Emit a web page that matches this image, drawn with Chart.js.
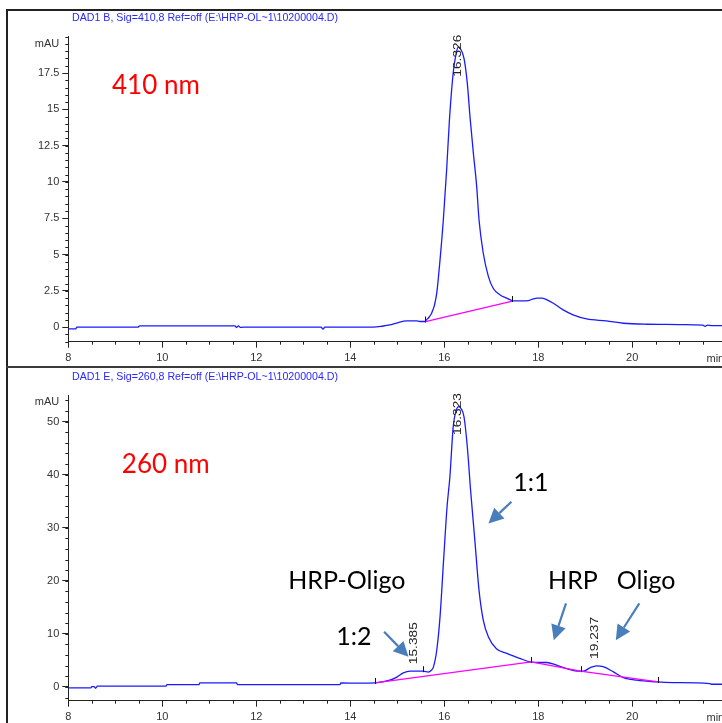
<!DOCTYPE html>
<html>
<head>
<meta charset="utf-8">
<script src="https://cdn.jsdelivr.net/npm/chart.js@4.4.1/dist/chart.umd.min.js"></script>
<style>
  html, body { margin: 0; padding: 0; background: #fff; }
  #wrap { position: relative; width: 722px; height: 723px; overflow: hidden; }
  canvas { position: absolute; left: 0; }
  #c410 { top: 0; }
  #c260 { top: 368px; }
  .frame { position: absolute; background: #222; }
</style>
</head>
<body>
<div id="wrap">
  <canvas id="c410" width="722" height="367"></canvas>
  <canvas id="c260" width="722" height="355"></canvas>
  <div class="frame" style="left:6px;top:9px;width:2px;height:714px"></div>
  <div class="frame" style="left:6px;top:9px;width:716px;height:2px"></div>
  <div class="frame" style="left:6px;top:366px;width:716px;height:2px;background:#3a3a3a"></div>
</div>
<script>
/* HPLC chromatograms, DAD1 410 nm and 260 nm */
(function () {
  "use strict";

  /* time axis (min) */
  const xTicks = [8, 10, 12, 14, 16, 18, 20];

  /* 410 nm trace */
  const yTicks410 = [0, 2.5, 5, 7.5, 10, 12.5, 15, 17.5];
  const time410 = [8.0, 8.16, 8.18, 9.48, 9.52, 11.55, 11.58, 11.62, 11.66, 11.72, 13.38, 13.42, 13.46, 14.49, 14.7, 14.84, 15.0, 15.2, 15.41, 15.48, 15.59, 15.62, 15.68, 15.73, 15.79, 15.84, 15.91, 15.98, 16.05, 16.11, 16.19, 16.25, 16.3, 16.34, 16.42, 16.49, 16.55, 16.62, 16.69, 16.74, 16.83, 16.94, 17.04, 17.19, 17.33, 17.47, 17.75, 17.9, 17.97, 18.08, 18.14, 18.32, 18.53, 18.74, 19.03, 19.45, 19.81, 20.31, 21.0, 21.3, 21.5, 21.55, 21.6, 21.7, 21.95];
  const abs410 = [-0.12, -0.12, 0, 0, 0.09, 0.09, -0.03, 0.09, -0.02, 0, 0, -0.14, 0, 0, 0.08, 0.16, 0.3, 0.43, 0.43, 0.39, 0.39, 0.5, 0.7, 0.96, 1.5, 2.34, 4.63, 7.38, 10.8, 14.27, 17.5, 18.8, 19.3, 19.2, 18.5, 16.8, 14.4, 11.97, 9.68, 7.38, 5.09, 3.48, 2.68, 2.22, 2.0, 1.81, 1.81, 1.95, 2.0, 2.0, 1.95, 1.65, 1.19, 0.85, 0.57, 0.43, 0.27, 0.2, 0.18, 0.16, 0.14, 0.06, 0.14, 0.1, 0.11];
  const baseTime410 = [15.6, 17.45];
  const baseAbs410 = [0.39, 1.8];
  const markTime410 = [15.6, 17.45];
  const markAbs410 = [0.39, 1.8];
  const peakTime410 = [16.326];
  const peakAbs410 = [19.3];

  /* 260 nm trace */
  const yTicks260 = [0, 10, 20, 30, 40, 50];
  const time260 = [8.0, 8.48, 8.5, 8.55, 8.58, 8.62, 10.08, 10.1, 10.78, 10.8, 11.58, 11.6, 13.78, 13.8, 14.21, 14.53, 14.84, 15.0, 15.13, 15.27, 15.55, 15.66, 15.72, 15.77, 15.84, 15.91, 15.99, 16.06, 16.12, 16.19, 16.25, 16.31, 16.36, 16.42, 16.49, 16.56, 16.65, 16.74, 16.83, 16.94, 17.11, 17.33, 17.61, 17.82, 18.0, 18.18, 18.39, 18.6, 18.82, 18.96, 19.1, 19.24, 19.38, 19.6, 19.81, 20.09, 20.52, 20.87, 21.65, 21.68, 21.95];
  const abs260 = [-0.2, -0.2, 0.05, 0.05, -0.25, 0.13, 0.13, 0.44, 0.44, 0.75, 0.75, 0.44, 0.44, 0.75, 0.7, 0.75, 1.26, 1.9, 2.64, 2.96, 2.96, 2.8, 3.1, 3.77, 6.9, 13.2, 24.5, 34, 39.6, 49, 52, 52.8, 52.4, 50.9, 45.3, 37.1, 27.7, 18.2, 12.6, 9.4, 7.2, 6.3, 5.36, 4.72, 4.6, 4.6, 4.09, 3.46, 2.96, 2.96, 3.6, 3.96, 3.8, 2.83, 1.76, 1.26, 0.94, 0.82, 0.63, 0.5, 0.5];
  const baseTime260 = [14.53, 17.85, 18.9, 20.55];
  const baseAbs260 = [0.75, 4.7, 2.96, 0.94];
  const markTime260 = [14.53, 15.55, 17.85, 18.9, 20.55];
  const markAbs260 = [0.75, 2.96, 4.7, 2.96, 0.94];
  const peakTime260 = [15.385, 16.323, 19.237];
  const peakAbs260 = [2.96, 52.8, 3.96];

  const BLUE = "#1a1aff", PINK = "#ff00ff", AXIS = "#222", ARROW = "#4a7ebb";
  const TICKFONT = '"Liberation Sans", Arial, sans-serif';
  const NOTEFONT = 'Lato, "Open Sans", sans-serif';

  const pts = (xs, ys) => xs.map((x, i) => ({ x: x, y: ys[i] }));

  function arrow(ctx, x0, y0, x1, y1) {
    const a = Math.atan2(y1 - y0, x1 - x0), L = 15, W = 7.5;
    const bx = x1 - L * Math.cos(a), by = y1 - L * Math.sin(a);
    ctx.save();
    ctx.strokeStyle = ARROW; ctx.fillStyle = ARROW; ctx.lineWidth = 2.2;
    ctx.beginPath(); ctx.moveTo(x0, y0); ctx.lineTo(bx, by); ctx.stroke();
    ctx.beginPath(); ctx.moveTo(x1, y1);
    ctx.lineTo(bx + W * Math.sin(a), by - W * Math.cos(a));
    ctx.lineTo(bx - W * Math.sin(a), by + W * Math.cos(a));
    ctx.closePath(); ctx.fill();
    ctx.restore();
  }

  /* extras: title, minor ticks, units, integration marks, peak labels, notes */
  const extras = {
    id: "extras",
    afterDraw(chart) {
      const o = chart.options.plugins.extras, ctx = chart.ctx, a = chart.chartArea;
      const xs = chart.scales.x, ys = chart.scales.y;
      ctx.save();
      // title
      ctx.font = "11px " + TICKFONT; ctx.fillStyle = "#2828ff";
      ctx.textAlign = "center"; ctx.textBaseline = "middle";
      const tw = ctx.measureText(o.title).width;
      ctx.save(); ctx.translate(205, o.titleY); ctx.scale(266 / tw, 1); ctx.fillText(o.title, 0, 0); ctx.restore();
      // minor ticks
      ctx.strokeStyle = AXIS; ctx.lineWidth = 1; ctx.beginPath();
      for (let t = 8; t <= xs.max; t += 0.5) {
        const px = Math.round(xs.getPixelForValue(t)) + 0.5;
        ctx.moveTo(px, a.bottom); ctx.lineTo(px, a.bottom + 3);
      }
      for (let v = Math.ceil(ys.min / o.minor) * o.minor; v <= ys.max + 1e-6; v += o.minor) {
        const py = Math.round(ys.getPixelForValue(v)) + 0.5;
        ctx.moveTo(a.left - 3, py); ctx.lineTo(a.left, py);
      }
      ctx.stroke();
      // units
      ctx.fillStyle = "#333"; ctx.font = "11px " + TICKFONT;
      ctx.textAlign = "right"; ctx.fillText("mAU", a.left - 9, a.top + 7);
      ctx.textAlign = "left"; ctx.fillText("min", 706.5, a.bottom + 17);
      // integration marks
      ctx.strokeStyle = "#111"; ctx.beginPath();
      o.marks.forEach((m) => {
        const px = Math.round(xs.getPixelForValue(m[0])) + 0.5, py = ys.getPixelForValue(m[1]);
        ctx.moveTo(px, py - 5); ctx.lineTo(px, py + 1);
      });
      ctx.stroke();
      // peak labels (rotated, kept inside the plot top)
      ctx.font = "10px " + TICKFONT; ctx.fillStyle = "#222";
      ctx.textAlign = "left"; ctx.textBaseline = "middle";
      o.peaks.forEach((p) => {
        const txt = p[0].toFixed(3), px = xs.getPixelForValue(p[0]) - 1.5;
        const py = Math.max(ys.getPixelForValue(p[1]) - 7, a.top + 40);
        const w = ctx.measureText(txt).width;
        ctx.save(); ctx.translate(px, py); ctx.rotate(-Math.PI / 2); ctx.scale(42 / w, 1);
        ctx.fillText(txt, 0, 0); ctx.restore();
      });
      // notes
      ctx.textBaseline = "alphabetic";
      o.notes.forEach((n) => {
        ctx.font = n.size + "px " + NOTEFONT; ctx.fillStyle = n.color;
        ctx.fillText(n.text, xs.getPixelForValue(n.t), ys.getPixelForValue(n.v));
      });
      o.arrows.forEach((r) => arrow(ctx, xs.getPixelForValue(r[0]), ys.getPixelForValue(r[1]), xs.getPixelForValue(r[2]), ys.getPixelForValue(r[3])));
      ctx.restore();
    },
  };

  function makeChart(id, cfg) {
    return new Chart(document.getElementById(id), {
      type: "line",
      data: {
        datasets: [
          { data: pts(cfg.baseT, cfg.baseA), borderColor: PINK, borderWidth: 1.3, pointRadius: 0, tension: 0 },
          { data: pts(cfg.time, cfg.abs), borderColor: BLUE, borderWidth: 1.3, pointRadius: 0, cubicInterpolationMode: "monotone" },
        ],
      },
      options: {
        responsive: false, animation: false, events: [],
        layout: { padding: { top: cfg.top, left: 0, right: 0, bottom: 0 } },
        plugins: {
          legend: { display: false }, tooltip: { enabled: false },
          extras: { title: cfg.title, titleY: cfg.titleY, minor: cfg.minor, marks: cfg.markT.map((t, i) => [t, cfg.markA[i]]),
                    peaks: cfg.peakT.map((t, i) => [t, cfg.peakA[i]]), notes: cfg.notes, arrows: cfg.arrows },
        },
        scales: {
          x: {
            type: "linear", min: 8, max: 21.91,
            afterBuildTicks: (s) => { s.ticks = xTicks.map((v) => ({ value: v })); },
            afterFit: (s) => { s.height = cfg.axisH; },
            grid: { drawOnChartArea: false, drawTicks: true, tickLength: 6, color: AXIS },
            border: { display: true, color: AXIS, width: 1 },
            ticks: { font: { family: TICKFONT, size: 11 }, color: "#333", padding: 4, maxRotation: 0, autoSkip: false, callback: (v) => String(v) },
          },
          y: {
            type: "linear", min: cfg.yMin, max: cfg.yMax,
            afterBuildTicks: (s) => { s.ticks = cfg.yTicks.map((v) => ({ value: v })); },
            afterFit: (s) => { s.width = 68.3; },
            grid: { drawOnChartArea: false, drawTicks: true, tickLength: 6, color: AXIS },
            border: { display: true, color: AXIS, width: 1 },
            ticks: { font: { family: TICKFONT, size: 11 }, color: "#333", padding: 3, autoSkip: false, callback: (v) => String(v) },
          },
        },
      },
      plugins: [extras],
    });
  }

  makeChart("c410", {
    title: "DAD1 B, Sig=410,8 Ref=off (E:\\HRP-OL~1\\10200004.D)", titleY: 18,
    top: 36.7, axisH: 25.3, yMin: -1, yMax: 20, yTicks: yTicks410, minor: 0.5,
    time: time410, abs: abs410, baseT: baseTime410, baseA: baseAbs410, markT: markTime410, markA: markAbs410,
    peakT: peakTime410, peakA: peakAbs410,
    notes: [{ text: "410 nm", t: 8.93, v: 16.04, size: 26, color: "#ff0000" }],
    arrows: [],
  });

  makeChart("c260", {
    title: "DAD1 E, Sig=260,8 Ref=off (E:\\HRP-OL~1\\10200004.D)", titleY: 9,
    top: 27, axisH: 22.3, yMin: -2.6, yMax: 55, yTicks: yTicks260, minor: 2,
    time: time260, abs: abs260, baseT: baseTime260, baseA: baseAbs260, markT: markTime260, markA: markAbs260,
    peakT: peakTime260, peakA: peakAbs260,
    notes: [
      { text: "260 nm", t: 9.14, v: 40.26, size: 26, color: "#ff0000" },
      { text: "HRP-Oligo", t: 12.68, v: 18.38, size: 25, color: "#000" },
      { text: "1:2", t: 13.7, v: 7.87, size: 25, color: "#000" },
      { text: "1:1", t: 17.47, v: 36.98, size: 25, color: "#000" },
      { text: "HRP", t: 18.21, v: 18.38, size: 25, color: "#000" },
      { text: "Oligo", t: 19.67, v: 18.38, size: 25, color: "#000" },
    ],
    arrows: [
      [14.72, 10.38, 15.24, 5.66],
      [17.43, 34.9, 16.94, 30.8],
      [18.59, 15.74, 18.33, 8.81],
      [20.15, 15.74, 19.65, 8.81],
    ],
  });
})();
</script>
</body>
</html>
